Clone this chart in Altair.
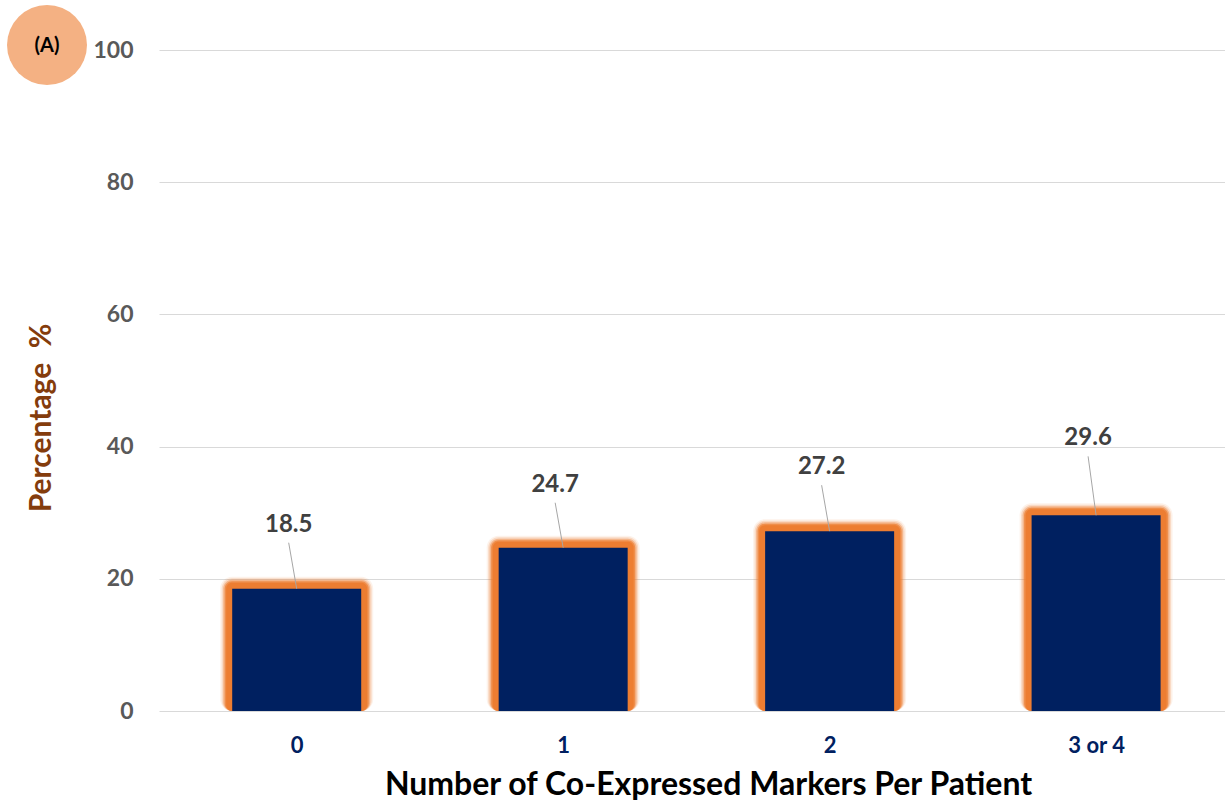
import altair as alt
import pandas as pd

# Share of patients by number of co-expressed markers
categories = ["0", "1", "2", "3 or 4"]
positions = [0, 1, 2, 3]
percentages = [18.5, 24.7, 27.2, 29.6]

# Styling
NAVY = "#002060"
GLOW = "#ED7D31"
BADGE = "#F4B183"
FONT = "Lato"
BAR_W = 129
label_lift = [64, 63, 64, 77]  # px between bar top and its value label

df = pd.DataFrame({
    "pos": positions,
    "cat": categories,
    "pct": percentages,
})
df["label"] = df["pct"].map(lambda v: f"{v:.1f}")

label_expr = "{" + ",".join(f"'{p}':'{c}'" for p, c in zip(positions, categories)) + "}[datum.value]"

x = alt.X(
    "pos:Q",
    scale=alt.Scale(domain=[-0.498, 3.465], nice=False, zero=False),
    axis=alt.Axis(
        values=positions, labelExpr=label_expr, grid=False, domain=False, ticks=False,
        labelFont=FONT, labelFontWeight="bold", labelFontSize=22, labelColor=NAVY,
        labelPadding=24, title="Number of Co-Expressed Markers Per Patient",
        titleFont=FONT, titleFontWeight="bold", titleFontSize=32, titleColor="#000000",
        titlePadding=13, titleX=549, titleAlign="center",
    ),
)
y = alt.Y(
    "pct:Q",
    scale=alt.Scale(domain=[0, 100], nice=False),
    axis=alt.Axis(
        values=[0, 20, 40, 60, 80, 100], grid=True, gridColor="#D9D9D9", gridWidth=1,
        domain=False, ticks=False, labelFont=FONT, labelFontWeight="bold",
        labelFontSize=23, labelColor="#595959", labelPadding=26, title=None,
    ),
)

base = alt.Chart(df)

# soft orange halo around each bar, built from widening translucent rectangles
glow_layers = []
for k, op in [(12, 0.10), (10.5, 0.2), (9, 0.4), (7.5, 0.7), (6, 1.0)]:
    glow_layers.append(
        base.mark_bar(
            width=BAR_W + 2 * k, yOffset=-k, cornerRadius=k, color=GLOW,
            opacity=op, clip=True,
        ).encode(x=x, y=y, y2=alt.datum(0))
    )

bars = base.mark_bar(width=BAR_W, color=NAVY, clip=True).encode(x=x, y=y, y2=alt.datum(0))

# leader line: from bar top up toward its label
leaders = alt.layer(*[
    alt.Chart(df[df["pos"] == p]).mark_rule(
        color="#A6A6A6", strokeWidth=1, x2Offset=-8, y2Offset=-(lift - 18),
    ).encode(x=x, y=y, x2="pos:Q", y2="pct:Q")
    for p, lift in zip(positions, label_lift)
])

labels = alt.layer(*[
    alt.Chart(df[df["pos"] == p]).mark_text(
        font=FONT, fontWeight="bold", fontSize=24, color="#404040",
        dx=-8, dy=-lift, baseline="middle", align="center",
    ).encode(x=x, y=y, text="label:N")
    for p, lift in zip(positions, label_lift)
])

one = pd.DataFrame({"t": ["(A)"]})
badge = alt.Chart(one).mark_circle(size=6400, color=BADGE, opacity=1).encode(
    x=alt.value(-112), y=alt.value(-5)
)
badge_text = alt.Chart(one).mark_text(
    font=FONT, fontWeight="bold", fontSize=20, color="#000000", baseline="middle", align="center"
).encode(x=alt.value(-112), y=alt.value(-4), text="t:N")

ytitle = alt.Chart(pd.DataFrame({"t": ["Percentage\u00a0 %"]})).mark_text(
    font=FONT, fontWeight="bold", fontSize=30, color="#843C0C", angle=270,
    baseline="middle", align="center",
).encode(x=alt.value(-117), y=alt.value(368), text="t:N")

chart = alt.layer(
    *glow_layers, bars, leaders, labels, badge, badge_text, ytitle
).properties(
    width=1066, height=661,
    background="white",
    padding={"left": 159, "top": 50, "right": 0, "bottom": 94},
    autosize=alt.AutoSizeParams(type="none"),
).configure_view(strokeWidth=0).configure_axis(domain=False, ticks=False)

chart.save("out.html", embed_options={"renderer": "svg", "actions": False})
